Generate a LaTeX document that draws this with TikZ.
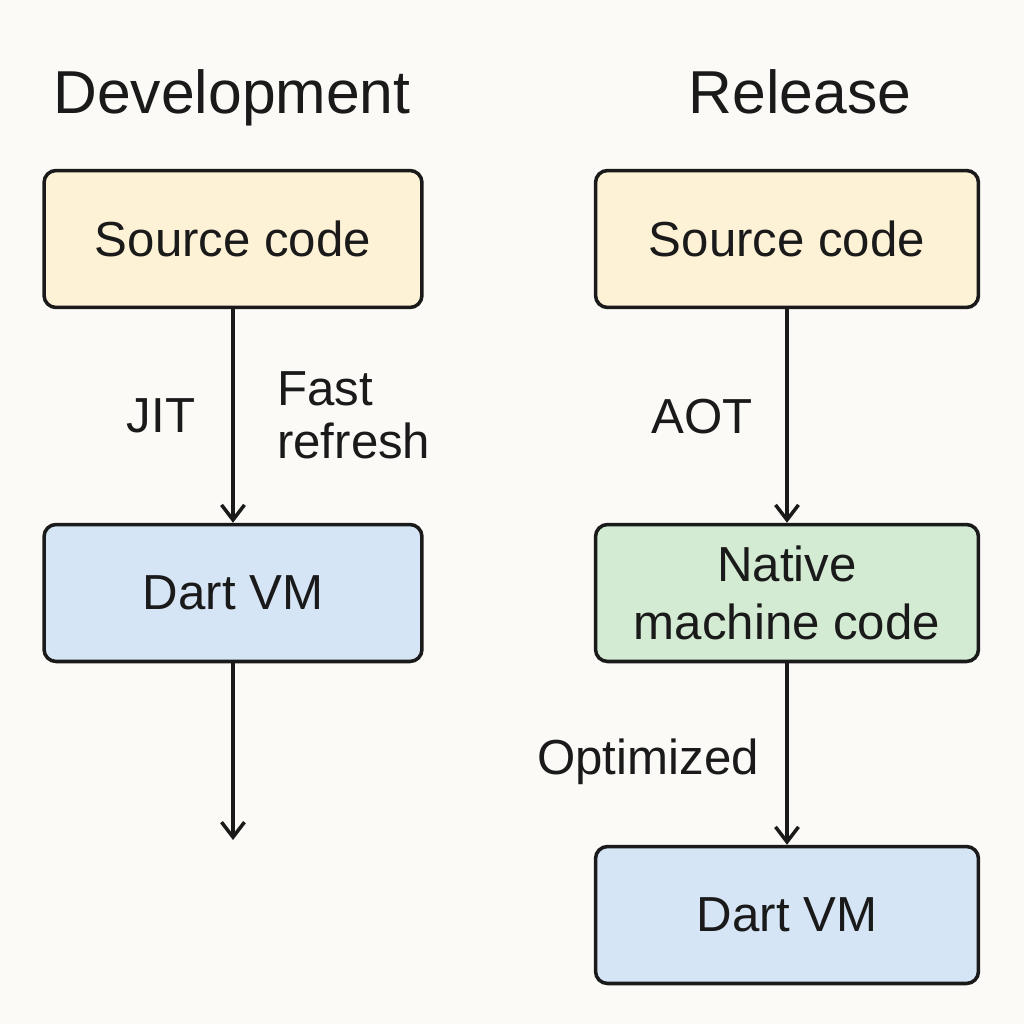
\documentclass[tikz,border=0pt]{standalone}
\usepackage{fontspec}
\setmainfont{Liberation Sans}
\usetikzlibrary{arrows.meta,positioning}
\definecolor{paper}{HTML}{FBFAF7}
\definecolor{ink}{HTML}{1A1A1A}
\definecolor{srcfill}{HTML}{FEF2D6}
\definecolor{vmfill}{HTML}{D5E5F5}
\definecolor{nativefill}{HTML}{D3EBD3}
\begin{document}
\begin{tikzpicture}
	[x=0.02cm,y=-0.02cm,
		box/.style={draw=ink,line width=2pt,rounded corners=0.24cm,
			minimum height=2.74cm,align=center,text=ink,
			font=\fontsize{28}{32}\selectfont},
		flow/.style={-{Straight Barb[length=0.3cm,width=0.46cm,line width=2pt]},ink,line width=2pt},
		heading/.style={anchor=base,text=ink,font=\fontsize{34.5}{40}\selectfont},
		tag/.style={anchor=base,text=ink,font=\fontsize{28}{32}\selectfont}]
	\fill[paper] (0,0) rectangle (1024,1024);
	\useasboundingbox (0,0) rectangle (1024,1024);
	% headings
	\node[heading] (dev) at (232,113) {Development};
	\node[heading] (rel) at (800,113) {Release};
	% development column
	\node[box,fill=srcfill,minimum width=7.56cm] (src1) at (233,239) {Source code};
	\node[box,fill=vmfill,minimum width=7.56cm] (vm1) at (233,593) {Dart VM};
	\coordinate (end1) at (233,840);
	\draw[flow] (src1) -- (vm1);
	\draw[flow] (vm1) -- (end1);
	\node[tag] (jit) at (161,432) {JIT};
	\node[tag,anchor=base west] (fast) at (271,405) {Fast};
	\node[tag,anchor=base west] (refresh) at (271,458) {refresh};
	% release column
	\node[box,fill=srcfill,minimum width=7.66cm] (src2) at (787,239) {Source code};
	\node[box,fill=nativefill,minimum width=7.66cm] (native) at (787,593) {Native\\[1pt]machine code};
	\node[box,fill=vmfill,minimum width=7.66cm] (vm2) at (787,915) {Dart VM};
	\draw[flow] (src2) -- (native);
	\draw[flow] (native) -- (vm2);
	\node[tag] (aot) at (702,433) {AOT};
	\node[tag] (opt) at (648,774) {Optimized};
\end{tikzpicture}
\end{document}
